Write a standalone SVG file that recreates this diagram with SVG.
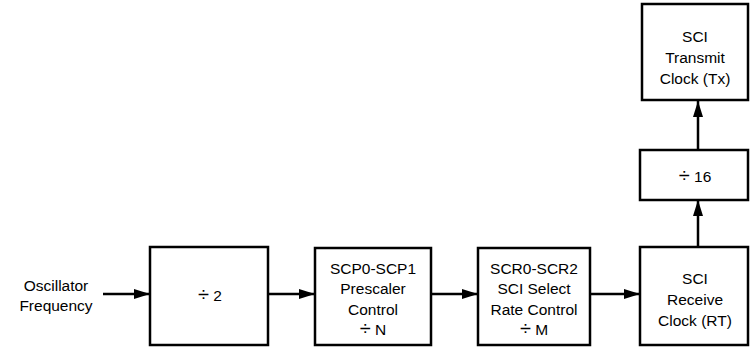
<svg xmlns="http://www.w3.org/2000/svg" width="750" height="347" viewBox="0 0 750 347">
<defs>
<marker id="ah" markerWidth="16" markerHeight="10" refX="16" refY="5" orient="auto" markerUnits="userSpaceOnUse">
<path d="M0,0 L16,5 L0,10 Z" fill="#000"/>
</marker>
</defs>
<style>
.box{fill:#fff;stroke:#000;stroke-width:2.5}
.t{font-family:"Liberation Sans",Arial,sans-serif;font-size:15.5px;text-anchor:middle;fill:#000}
.d{font-size:20px}
.c{stroke:#000;stroke-width:2.5;fill:none;marker-end:url(#ah)}
</style>
<rect width="750" height="347" fill="#fff"/>
<g id="connectors">
<line class="c" x1="103" y1="294" x2="150" y2="294"/>
<line class="c" x1="268" y1="294" x2="315" y2="294"/>
<line class="c" x1="431" y1="294" x2="478" y2="294"/>
<line class="c" x1="590" y1="294" x2="640" y2="294"/>
<line class="c" x1="698" y1="247" x2="698" y2="200"/>
<line class="c" x1="698" y1="150" x2="698" y2="101"/>
</g>
<g id="oscillator">
<text class="t" x="56" y="291">Oscillator</text>
<text class="t" x="56" y="311">Frequency</text>
</g>
<g id="div2">
<rect class="box" x="150" y="247" width="118" height="98"/>
<text class="t" x="210" y="301"><tspan class="d">÷</tspan> 2</text>
</g>
<g id="prescaler">
<rect class="box" x="315" y="248" width="116" height="97"/>
<text class="t" x="373" y="274">SCP0-SCP1</text>
<text class="t" x="373" y="294">Prescaler</text>
<text class="t" x="373" y="315">Control</text>
<text class="t" x="373" y="335"><tspan class="d">÷</tspan> N</text>
</g>
<g id="selectrate">
<rect class="box" x="478" y="248" width="112" height="97"/>
<text class="t" x="534" y="274">SCR0-SCR2</text>
<text class="t" x="534" y="294">SCI Select</text>
<text class="t" x="534" y="315">Rate Control</text>
<text class="t" x="534" y="335"><tspan class="d">÷</tspan> M</text>
</g>
<g id="receive">
<rect class="box" x="640" y="247" width="108" height="98"/>
<text class="t" x="695" y="284">SCI</text>
<text class="t" x="695" y="305">Receive</text>
<text class="t" x="695" y="326">Clock (RT)</text>
</g>
<g id="div16">
<rect class="box" x="640" y="150" width="108" height="50"/>
<text class="t" x="695" y="182"><tspan class="d">÷</tspan> 16</text>
</g>
<g id="transmit">
<rect class="box" x="642" y="4" width="106" height="96"/>
<text class="t" x="695" y="42">SCI</text>
<text class="t" x="695" y="63">Transmit</text>
<text class="t" x="695" y="84">Clock (Tx)</text>
</g>
</svg>
